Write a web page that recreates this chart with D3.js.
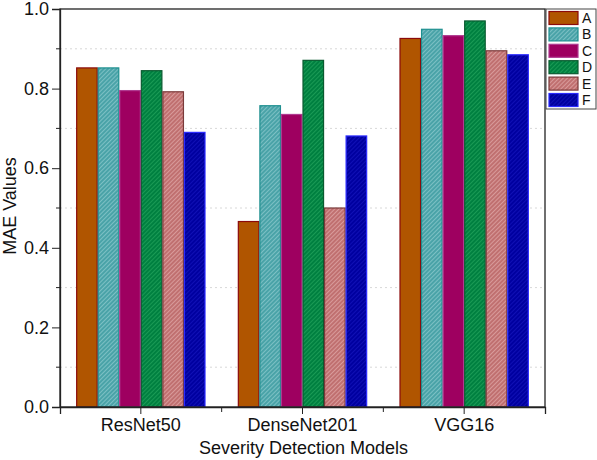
<!DOCTYPE html>
<html><head><meta charset="utf-8">
<script src="https://cdn.jsdelivr.net/npm/d3@7"></script>
<style>body{margin:0;background:#fff}text{font-family:"Liberation Sans",Arial,sans-serif}</style>
</head><body><svg id="c" width="597" height="460"></svg>
<script>
const categories = ["ResNet50", "DenseNet201", "VGG16"];
const seriesNames = ["A", "B", "C", "D", "E", "F"];
const A = [0.852, 0.466, 0.926];
const B = [0.852, 0.757, 0.949];
const C = [0.795, 0.735, 0.933];
const D = [0.845, 0.871, 0.970];
const E = [0.792, 0.500, 0.895];
const F = [0.690, 0.681, 0.885];
const yTicks = [0, 0.2, 0.4, 0.6, 0.8, 1.0];
const yMinor = [0.1, 0.3, 0.5, 0.7, 0.9];
const values = [A, B, C, D, E, F];

const styles = [
  {fill:"#B05500", stroke:"#8B0A0A", hatch:null},
  {fill:"#4AA3A8", stroke:"#1F9090", hatch:"#7CC0C4"},
  {fill:"#9E0060", stroke:"#B03A90", hatch:null},
  {fill:"#008040", stroke:"#0A5A30", hatch:"#1A9A55"},
  {fill:"#C07070", stroke:"#7A3A3A", hatch:"#D89A9A"},
  {fill:"#0000A0", stroke:"#2A2AFF", hatch:"#1010B5"}
];

const svg = d3.select("#c");
const m = {l:60, t:9, r:545, b:407};
const FS = 18;
const x = d3.scaleBand().domain(categories).range([m.l, m.r]).paddingInner(0).paddingOuter(0);
const xs = d3.scaleBand().domain(seriesNames).range([0, x.bandwidth()]).paddingOuter(0.75).paddingInner(0);
const y = d3.scaleLinear().domain([0, 1]).range([m.b, m.t]);

const defs = svg.append("defs");
styles.forEach((s, i) => {
  if (!s.hatch) return;
  const p = defs.append("pattern").attr("id", "h" + i).attr("patternUnits", "userSpaceOnUse")
    .attr("width", 3).attr("height", 3).attr("patternTransform", "rotate(45)");
  p.append("rect").attr("width", 3).attr("height", 3).attr("fill", s.fill);
  p.append("line").attr("x1", 0.5).attr("y1", 0).attr("x2", 0.5).attr("y2", 3)
    .attr("stroke", s.hatch).attr("stroke-width", 1);
});
const fillOf = i => styles[i].hatch ? `url(#h${i})` : styles[i].fill;

// grid
svg.append("g").selectAll("line").data(yMinor).join("line")
  .attr("x1", m.l).attr("x2", m.r).attr("y1", d => y(d)).attr("y2", d => y(d))
  .attr("stroke", "#d8d8d8").attr("stroke-dasharray", "2,3").attr("stroke-width", 1);

// bars
seriesNames.forEach((s, i) => {
  svg.append("g").selectAll("rect").data(categories).join("rect")
    .attr("x", (c) => x(c) + xs(s) + 0.5)
    .attr("y", (c, j) => y(values[i][j]))
    .attr("width", xs.bandwidth() - 1)
    .attr("height", (c, j) => y(0) - y(values[i][j]))
    .attr("fill", fillOf(i)).attr("stroke", styles[i].stroke).attr("stroke-width", 1.2);
});

// frame
svg.append("rect").attr("x", m.l).attr("y", m.t).attr("width", m.r - m.l).attr("height", m.b - m.t)
  .attr("fill", "none").attr("stroke", "#222").attr("stroke-width", 1.3);

// y axis
const yAxis = svg.append("g").attr("transform", `translate(${m.l},0)`)
  .call(d3.axisLeft(y).tickValues(yTicks).tickFormat(d3.format(".1f")).tickSize(8).tickPadding(3));
yAxis.select(".domain").attr("stroke", "#222").attr("stroke-width", 1.3);
yAxis.selectAll("line").attr("stroke", "#222");
yAxis.selectAll("text").attr("font-size", FS).attr("fill", "#111");
svg.append("g").selectAll("line").data(yMinor).join("line")
  .attr("x1", m.l - 4).attr("x2", m.l).attr("y1", d => y(d)).attr("y2", d => y(d)).attr("stroke", "#222");

// x axis
const xAxis = svg.append("g").attr("transform", `translate(0,${m.b})`)
  .call(d3.axisBottom(x).tickSize(7).tickPadding(4));
xAxis.select(".domain").attr("stroke", "#222").attr("stroke-width", 1.3);
xAxis.selectAll("line").attr("stroke", "#222");
xAxis.selectAll("text").attr("font-size", FS).attr("fill", "#111");
svg.append("g").selectAll("line").data(categories.slice(1)).join("line")
  .attr("x1", d => x(d)).attr("x2", d => x(d)).attr("y1", m.b).attr("y2", m.b + 5).attr("stroke", "#222");

// titles
svg.append("text").attr("x", (m.l + m.r) / 2 + 1).attr("y", 454).attr("text-anchor", "middle")
  .attr("font-size", FS).attr("fill", "#111").text("Severity Detection Models");
svg.append("text").attr("transform", "translate(16,206) rotate(-90)").attr("text-anchor", "middle")
  .attr("font-size", FS).attr("fill", "#111").text("MAE Values");

// legend
const lg = svg.append("g");
lg.append("rect").attr("x", 546).attr("y", 9).attr("width", 50).attr("height", 100)
  .attr("fill", "#fff").attr("stroke", "#444").attr("stroke-width", 1);
seriesNames.forEach((s, i) => {
  const cy = 18 + i * 16.4;
  lg.append("rect").attr("x", 549).attr("y", cy - 6.5).attr("width", 29).attr("height", 13)
    .attr("fill", fillOf(i)).attr("stroke", styles[i].stroke).attr("stroke-width", 1.2);
  lg.append("text").attr("x", 582).attr("y", cy + 5).attr("font-size", 14).attr("fill", "#111").text(s);
});
</script></body></html>
